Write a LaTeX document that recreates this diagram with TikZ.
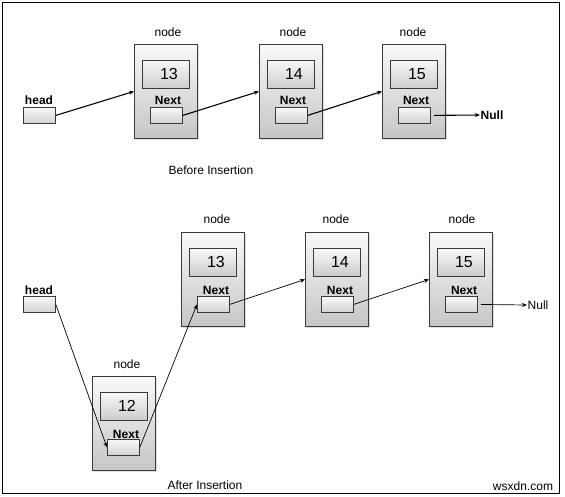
\documentclass[tikz,border=0pt]{standalone}
\usepackage{fontspec}
\setmainfont{Liberation Sans}
\usetikzlibrary{arrows.meta,shadows}
\definecolor{boxline}{HTML}{3A3A3A}
\tikzset{
  outerbox/.style={draw=boxline, line width=0.8pt, top color=white!95!gray, bottom color=gray!45,
    minimum width=63pt, minimum height=94pt, inner sep=0pt, anchor=north west,
    drop shadow={opacity=0.25, shadow xshift=1.2pt, shadow yshift=-1.2pt}},
  valbox/.style={draw=boxline, line width=0.8pt, top color=white!95!gray, bottom color=gray!40,
    minimum width=47pt, minimum height=28pt, inner sep=0pt, anchor=north west,
    font=\fontsize{16}{18}\selectfont},
  nextbox/.style={draw=boxline, line width=0.8pt, top color=white!95!gray, bottom color=gray!35,
    minimum width=32pt, minimum height=16pt, inner sep=0pt, anchor=north west},
  lbl/.style={font=\fontsize{12}{14}\selectfont, inner sep=0pt},
  blbl/.style={font=\fontsize{12}{14}\selectfont\bfseries, inner sep=0pt},
  thickarrow/.style={line width=1.1pt, -{Stealth[length=5pt,width=4pt]}},
  thinarrow/.style={line width=0.7pt, -{Stealth[length=5pt,width=4pt]}},
}
\begin{document}
\begin{tikzpicture}[x=1pt,y=-1pt]
\useasboundingbox (0,0) rectangle (565,496);
\draw[line width=1pt] (2,2) rectangle (559,493);

% ---------- Before insertion ----------
\node[lbl] (thl) at (39,100) {\bfseries head};
\node[nextbox] (th) at (23,107) {};

\node[outerbox] (ta) at (134,44) {};
\node[lbl] (tal) at (168,32) {node};
\node[valbox] (tav) at (142,60) {\hspace*{6pt}13};
\node[blbl] (tan) at (168,100) {Next};
\node[nextbox] (tanb) at (150,107) {};

\node[outerbox] (tb) at (259,44) {};
\node[lbl] (tbl) at (293,32) {node};
\node[valbox] (tbv) at (267,60) {\hspace*{6pt}14};
\node[blbl] (tbn) at (293,100) {Next};
\node[nextbox] (tbnb) at (275,107) {};

\node[outerbox] (tc) at (382,44) {};
\node[lbl] (tcl) at (413,32) {node};
\node[valbox] (tcv) at (390,60) {\hspace*{6pt}15};
\node[blbl] (tcn) at (416,100) {Next};
\node[nextbox] (tcnb) at (398,107) {};

\node[blbl, anchor=west, inner sep=0.5pt] (tnull) at (480,115) {Null};

\draw[thickarrow] (th.east) -- (ta.west);
\draw[thickarrow] (tanb.east) -- (tb.west);
\draw[thickarrow] (tbnb.east) -- (tc.west);
\draw[thickarrow, shorten <=3pt] (tcnb.east) -- (tnull.west);

\node[lbl] (before) at (211,170) {Before Insertion};

% ---------- After insertion ----------
\node[lbl] (bhl) at (39,290) {\bfseries head};
\node[nextbox] (bh) at (23,296) {};

\node[outerbox] (bz) at (92,376) {};
\node[lbl] (bzl) at (127,364) {node};
\node[valbox] (bzv) at (100,392) {\hspace*{6pt}12};
\node[blbl] (bzn) at (126,434) {Next};
\node[nextbox] (bznb) at (107,439) {};

\node[outerbox] (ba) at (181,232) {};
\node[lbl] (bal) at (217,219) {node};
\node[valbox] (bav) at (189,248) {\hspace*{6pt}13};
\node[blbl] (ban) at (216,290) {Next};
\node[nextbox] (banb) at (197,296) {};

\node[outerbox] (bb) at (305,232) {};
\node[lbl] (bbl) at (336,219) {node};
\node[valbox] (bbv) at (313,248) {\hspace*{6pt}14};
\node[blbl] (bbn) at (340,290) {Next};
\node[nextbox] (bbnb) at (321,296) {};

\node[outerbox] (bc) at (429,232) {};
\node[lbl] (bcl) at (462,219) {node};
\node[valbox] (bcv) at (437,248) {\hspace*{6pt}15};
\node[blbl] (bcn) at (464,290) {Next};
\node[nextbox] (bcnb) at (445,296) {};

\node[lbl, anchor=west, inner sep=0.5pt] (bnull) at (527,305) {Null};

\draw[thinarrow] (bh.east) -- (bznb.west);
\draw[thinarrow] (bznb.east) -- (banb.west);
\draw[thinarrow] (banb.east) -- (bb.west);
\draw[thinarrow] (bbnb.east) -- (bc.west);
\draw[thinarrow, shorten <=3pt] (bcnb.east) -- (bnull.west);

\node[lbl] (after) at (205,485) {After Insertion};
\node[lbl] (site) at (523,486) {wsxdn.com};
\end{tikzpicture}
\end{document}
